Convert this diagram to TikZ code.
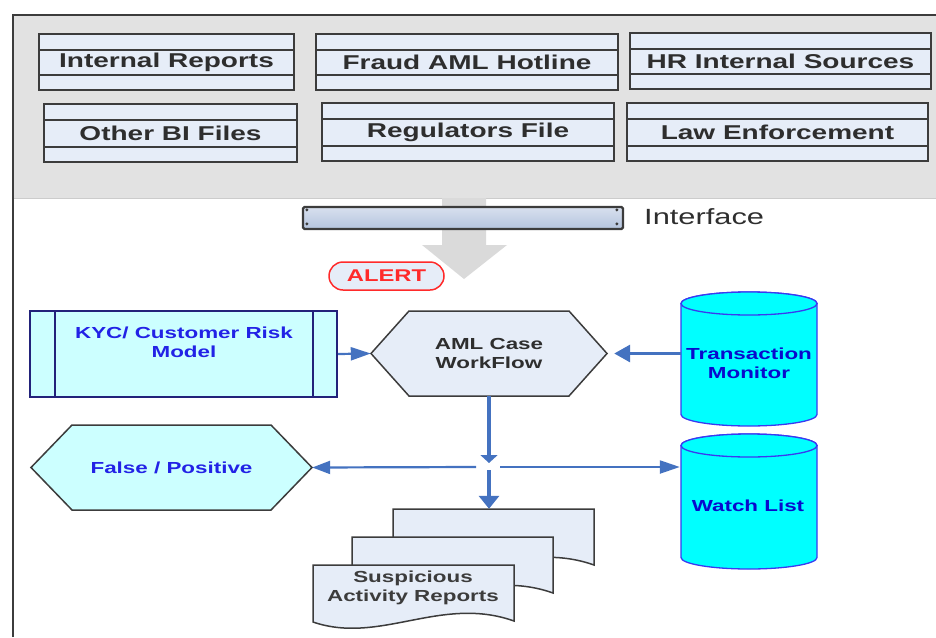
\documentclass[tikz,border=0pt]{standalone}
\usepackage{fontspec}
\setmainfont{Liberation Sans}
\newfontfamily\widesans[FakeStretch=1.4]{Liberation Sans}
\usetikzlibrary{arrows.meta,calc}

\definecolor{bandgray}{HTML}{E2E2E2}
\definecolor{edgegray}{HTML}{3C3C3C}
\definecolor{srcfill}{HTML}{E6EDF8}
\definecolor{inktext}{HTML}{2E2E2E}
\definecolor{flowblue}{HTML}{4472C0}
\definecolor{kycfill}{HTML}{CCFFFF}
\definecolor{kycedge}{HTML}{22227A}
\definecolor{kyctext}{HTML}{2222E6}
\definecolor{cylfill}{HTML}{00FFFF}
\definecolor{cyledge}{HTML}{3A3AF0}
\definecolor{cyltext}{HTML}{0A0ACC}
\definecolor{alertred}{HTML}{FF2A2A}
\definecolor{arrowgray}{HTML}{DADADA}
\definecolor{bartop}{HTML}{D8E0EE}
\definecolor{barbottom}{HTML}{B4C4DE}

% hexagon: centre x, centre y, half width, half height, point depth, style
\newcommand\hexa[6]{%
  \path[#6] ({#1-#3},#2) -- ({#1-#3+#5},{#2-#4}) -- ({#1+#3-#5},{#2-#4})
    -- ({#1+#3},#2) -- ({#1+#3-#5},{#2+#4}) -- ({#1-#3+#5},{#2+#4}) -- cycle;}
% database cylinder: centre x, top y, bottom y
\newcommand\dbcyl[3]{%
  \filldraw[cylshape] ({#1-68},{#2+11.5}) -- ({#1-68},{#3-11.5})
    arc[start angle=180, end angle=360, x radius=68pt, y radius=11.5pt]
    -- ({#1+68},{#2+11.5})
    arc[start angle=0, end angle=180, x radius=68pt, y radius=11.5pt] -- cycle;
  \draw[cylshape] (#1,{#2+11.5}) ellipse [x radius=68pt, y radius=11.5pt];}
% stacked report sheet with a wavy lower edge, top-left corner given
\newcommand\sheet[2]{%
  \begin{scope}[shift={(#1,#2)}]
    \filldraw[docshape] (0,0) -- (201,0) -- (201,56)
      .. controls (128,30) and (67,80) .. (0,57) -- cycle;
  \end{scope}}

\begin{document}
\begin{tikzpicture}[x=1pt,y=-1pt,
  srcbox/.style={draw=edgegray, line width=1.6pt, fill=srcfill,
    minimum height=56pt, inner sep=0pt, text=inktext,
    font=\widesans\bfseries\fontsize{20}{24}\selectfont,
    path picture={
      \draw[edgegray, line width=1.6pt]
        ([yshift=-16pt]path picture bounding box.north west) --
        ([yshift=-16pt]path picture bounding box.north east);
      \draw[edgegray, line width=1.6pt]
        ([yshift=15pt]path picture bounding box.south west) --
        ([yshift=15pt]path picture bounding box.south east);}},
  kycbox/.style={draw=kycedge, line width=2pt, fill=kycfill, inner sep=0pt,
    path picture={
      \draw[kycedge, line width=2pt]
        ([xshift=25pt]path picture bounding box.north west) --
        ([xshift=25pt]path picture bounding box.south west);
      \draw[kycedge, line width=2pt]
        ([xshift=-24pt]path picture bounding box.north east) --
        ([xshift=-24pt]path picture bounding box.south east);}},
  bluelabel/.style={text=kyctext, align=center, inner sep=0pt,
    font=\widesans\bfseries\fontsize{16}{19}\selectfont},
  inklabel/.style={text=inktext, align=center, inner sep=0pt,
    font=\widesans\bfseries\fontsize{16}{19}\selectfont},
  cyllabel/.style={text=cyltext, align=center, inner sep=0pt,
    font=\widesans\bfseries\fontsize{16}{19}\selectfont},
  amlshape/.style={draw=edgegray, line width=1.5pt, fill=srcfill},
  fpshape/.style={draw=edgegray, line width=1.5pt, fill=kycfill},
  cylshape/.style={draw=cyledge, line width=1.3pt, fill=cylfill},
  docshape/.style={draw=edgegray, line width=1.5pt, fill=srcfill},
  flowthin/.style={draw=flowblue, line width=2.2pt},
  flowthick/.style={draw=flowblue, line width=3.2pt}]

\useasboundingbox (0,0) rectangle (936,637);

% source band and frame
\fill[bandgray] (13,15) rectangle (936,198);
\draw[black!20, line width=1pt] (14,198) -- (936,198);
\draw[edgegray, line width=2.5pt] (13,637) -- (13,15) -- (936,15);

% data sources
\node[srcbox, minimum width=255pt] (ir) at (166.5,62) {Internal Reports};
\node[srcbox, minimum width=302pt] (hot) at (467,62) {Fraud AML Hotline};
\node[srcbox, minimum width=301pt] (hr) at (780.5,61) {HR Internal Sources};
\node[srcbox, minimum width=253pt, minimum height=58pt] (bi) at (170.5,133) {Other BI Files};
\node[srcbox, minimum width=292pt, minimum height=58pt] (reg) at (468,132) {Regulators File};
\node[srcbox, minimum width=301pt, minimum height=58pt] (law) at (777.5,132) {Law Enforcement};

% block arrow down from the interface
\fill[arrowgray] (442,198) -- (486,198) -- (486,245) -- (507,245) -- (464,279)
  -- (422,245) -- (442,245) -- cycle;

% interface bar
\node[draw=edgegray, line width=2.2pt, rounded corners=1.5pt,
  top color=bartop, bottom color=barbottom,
  minimum width=320pt, minimum height=22pt, inner sep=0pt] (iface) at (463,218) {};
\foreach \cx/\cy in {5/4, 5/18, 315/4, 315/18}
  \fill[edgegray] ($(iface.north west)+(\cx,\cy)$) circle[radius=1.6pt];
\node[anchor=west, inner sep=0pt, text=inktext,
  font=\widesans\fontsize{22}{26}\selectfont] (ifacelbl) at (644,217) {Interface};

% alert tag
\node[draw=alertred, line width=1.5pt, fill=srcfill, rounded corners=14pt,
  minimum width=115pt, minimum height=28pt, inner sep=0pt, text=alertred,
  font=\widesans\bfseries\fontsize{17}{20}\selectfont] (alert) at (386.5,276) {ALERT};

% KYC model
\node[kycbox, minimum width=307pt, minimum height=86pt] (kyc) at (183.5,354) {};
\node[bluelabel] (kyclbl) at (184,342.5) {KYC/ Customer Risk\\Model};

% case workflow
\hexa{489}{353.5}{118}{42.5}{38}{amlshape}
\node[inklabel, minimum width=236pt, minimum height=85pt] (aml) at (489,353.5) {AML Case\\WorkFlow};

% false / positive outcome
\hexa{171.5}{467.5}{140.5}{42.5}{41}{fpshape}
\node[bluelabel, minimum width=281pt, minimum height=85pt] (fp) at (171.5,467.5) {False / Positive};

% data stores
\dbcyl{749}{292}{426}
\node[cyllabel, minimum width=136pt] (tm) at (749,363.5) {Transaction\\Monitor};
\dbcyl{749}{434}{569}
\node[cyllabel, minimum width=136pt] (wl) at (748,506) {Watch List};

% suspicious activity reports
\sheet{393}{509}
\sheet{352}{537}
\sheet{313}{565}
\node[inner sep=0pt, minimum width=201pt, minimum height=56pt] (sarback) at (493.5,537) {};
\node[inklabel, text=edgegray] (sar) at (413,588) {Suspicious\\Activity Reports};

% flows
\coordinate (jn) at (489,467);
\draw[flowthin, -{Triangle[length=20pt,width=13pt]}] (kyc.east) -- (aml.west);
\draw[flowthick, -{Triangle[length=16pt,width=17pt]}, shorten >=7pt]
  (tm.west |- aml.east) -- (aml.east);
\draw[flowthick, -{Triangle[length=8pt,width=17pt]}] (aml.south) -- ($(jn)+(0,-4)$);
\draw[flowthick, -{Triangle[length=13pt,width=20pt]}] ($(jn)+(0,3)$) -- (sarback.north -| jn);
\draw[flowthin, -{Triangle[length=18pt,width=13pt]}] ($(jn)+(-13,0)$) -- (fp.east);
\draw[flowthin, -{Triangle[length=20pt,width=13pt]}] ($(jn)+(11,0)$) -- (jn -| wl.west);

\end{tikzpicture}
\end{document}
